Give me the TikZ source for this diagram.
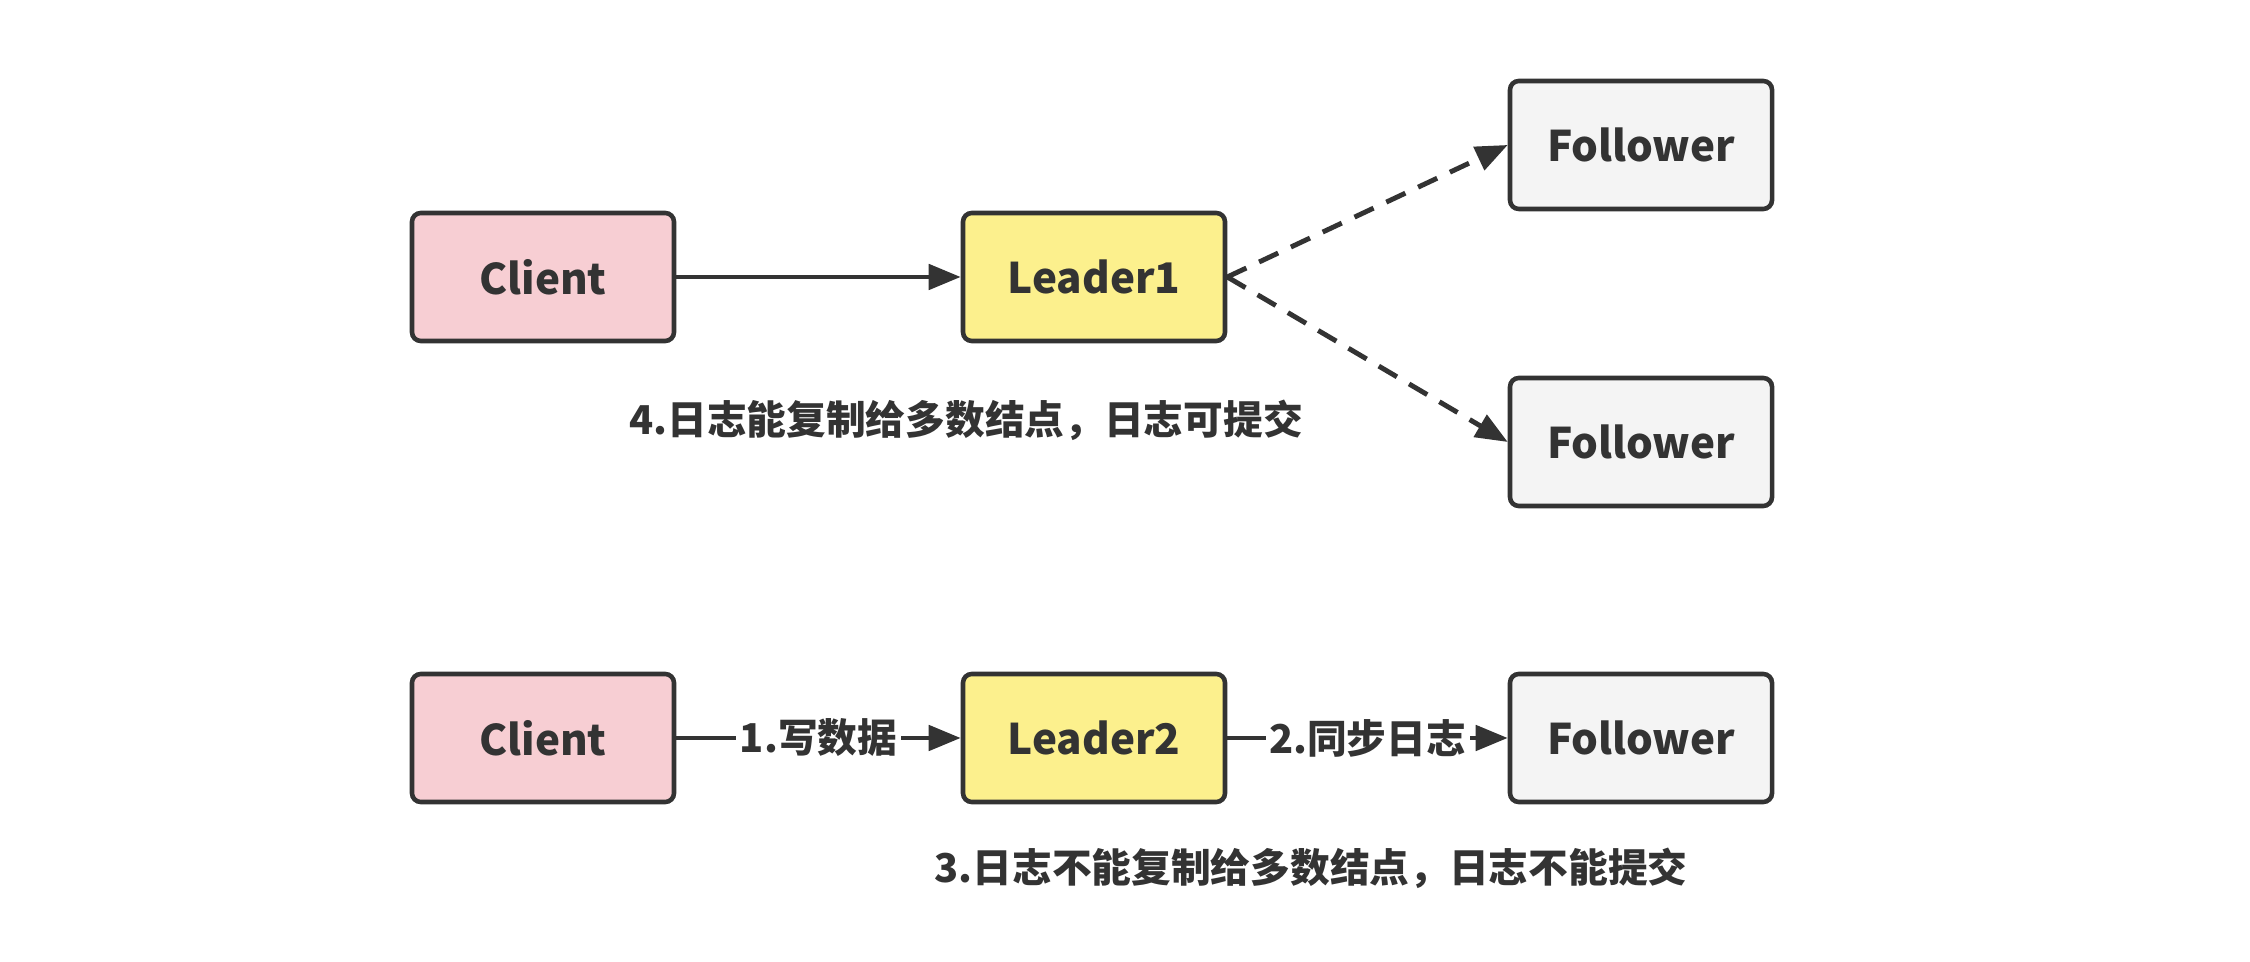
\documentclass[tikz,border=0pt]{standalone}
\usepackage{fontspec}
\setmainfont{Noto Sans CJK SC}
\usetikzlibrary{arrows.meta}

\definecolor{ink}{HTML}{333333}
\definecolor{clientfill}{HTML}{F7CED3}
\definecolor{leaderfill}{HTML}{FCF08D}
\definecolor{followerfill}{HTML}{F4F4F4}

\tikzset{
  box/.style={draw=ink, line width=1.3pt, rounded corners=2.5pt, text=ink,
    minimum width=2.62cm, minimum height=1.28cm, font=\fontsize{12}{14}\selectfont\bfseries},
  clientbox/.style={box, fill=clientfill},
  leaderbox/.style={box, fill=leaderfill},
  followerbox/.style={box, fill=followerfill},
  note/.style={text=ink, font=\fontsize{11.3}{14}\selectfont\bfseries},
  link/.style={draw=ink, line width=1.4pt, -{Triangle[length=3.2mm,width=2.5mm]}},
}

\begin{document}
\begin{tikzpicture}
  \useasboundingbox (0,0) rectangle (22.5,9.62);

  % Upper case: leader reaches a majority
  \node[clientbox] (client1) at (5.43, 6.85) {Client};
  \node[leaderbox] (leader1) at (10.94, 6.85) {Leader1};
  \node[followerbox] (follower1) at (16.41, 8.17) {Follower};
  \node[followerbox] (follower2) at (16.41, 5.20) {Follower};

  \draw[link] (client1) -- (leader1);
  \draw[link, dash pattern=on 6pt off 4pt] (leader1.east) -- (follower1.west);
  \draw[link, dash pattern=on 6pt off 4pt] (leader1.east) -- (follower2.west);

  \node[note] (commit1) at (9.66, 5.42) {4.日志能复制给多数结点，日志可提交};

  % Lower case: leader cannot reach a majority
  \node[clientbox] (client2) at (5.43, 2.24) {Client};
  \node[leaderbox] (leader2) at (10.94, 2.24) {Leader2};
  \node[followerbox] (follower3) at (16.41, 2.24) {Follower};

  \draw[link] (client2) -- node[note, fill=white, inner sep=1pt] {1.写数据} (leader2);
  \draw[link] (leader2) -- node[note, fill=white, inner sep=1pt] {2.同步日志} (follower3);

  \node[note] (commit2) at (13.11, 0.94) {3.日志不能复制给多数结点，日志不能提交};
\end{tikzpicture}
\end{document}
